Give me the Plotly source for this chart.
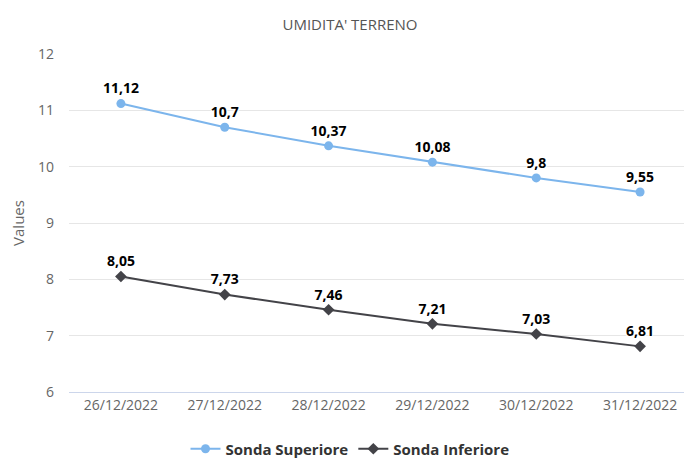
import plotly.graph_objects as go

categories = ["26/12/2022", "27/12/2022", "28/12/2022", "29/12/2022", "30/12/2022", "31/12/2022"]
sonda_superiore = [11.12, 10.7, 10.37, 10.08, 9.8, 9.55]
sonda_inferiore = [8.05, 7.73, 7.46, 7.21, 7.03, 6.81]
y_ticks = [6, 7, 8, 9, 10, 11, 12]

FONT = "Open Sans"
# page body has an 8px default margin, so the figure is drawn 8px in
W, H = 684, 453

def fmt(v):
    return ("%g" % v).replace(".", ",")

label_font = dict(family=FONT, size=14, color="#000000",
                  weight="bold",
                  shadow="1px 1px 1px #fff, -1px -1px 1px #fff, 1px -1px 1px #fff, -1px 1px 1px #fff")

fig = go.Figure()
fig.add_trace(go.Scatter(
    x=categories, y=sonda_superiore, name="Sonda Superiore",
    mode="lines+markers+text",
    line=dict(color="#7cb5ec", width=2),
    marker=dict(symbol="circle", size=9, color="#7cb5ec"),
    text=[fmt(v) for v in sonda_superiore], textposition="top center",
    textfont=label_font, cliponaxis=False,
))
fig.add_trace(go.Scatter(
    x=categories, y=sonda_inferiore, name="Sonda Inferiore",
    mode="lines+markers+text",
    line=dict(color="#434348", width=2),
    marker=dict(symbol="diamond", size=9, color="#434348"),
    text=[fmt(v) for v in sonda_inferiore], textposition="top center",
    textfont=label_font, cliponaxis=False,
))

plot_top, plot_bottom = 46, 384
plot_h = plot_bottom - plot_top

fig.update_layout(
    width=W, height=H,
    paper_bgcolor="white", plot_bgcolor="white",
    margin=dict(l=61, r=0, t=plot_top, b=H - plot_bottom, autoexpand=False),
    font=dict(family=FONT, color="#666666"),
    title=dict(text="UMIDITA' TERRENO", x=0.5, xanchor="center", y=1 - 17 / H, yanchor="middle",
               font=dict(family=FONT, size=15, color="#555555")),
    showlegend=True,
    legend=dict(orientation="h", xref="container", x=0.5, xanchor="center",
                y=-(441 - plot_bottom) / plot_h, yanchor="middle",
                font=dict(family=FONT, size=15, color="#333333", weight="bold"),
                itemwidth=30),
    xaxis=dict(
        type="category", showgrid=False, showline=True, linecolor="#ccd6eb", linewidth=1,
        ticks="", tickfont=dict(size=14, color="#666666"), range=[-0.5, 5.5],
        zeroline=False, automargin=False,
    ),
    yaxis=dict(
        range=[6, 12], tickvals=y_ticks, showgrid=True, gridcolor="#e6e6e6", gridwidth=1,
        zeroline=False, showline=False, tickfont=dict(size=14, color="#666666"),
        ticklabelstandoff=14, automargin=False,
        title=dict(text="Values", font=dict(size=15, color="#666666"), standoff=20),
    ),
)

fig.write_html("out.html")
